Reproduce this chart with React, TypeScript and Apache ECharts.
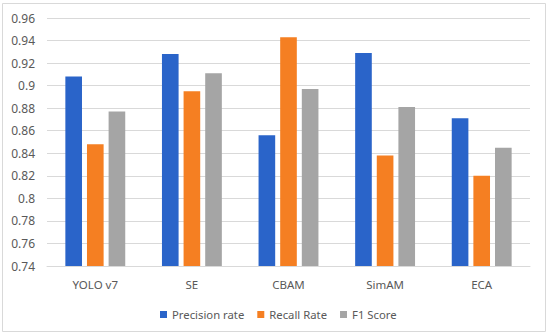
import React, { useEffect, useRef } from "react";
import * as echarts from "echarts";

const categories = ["YOLO v7", "SE", "CBAM", "SimAM", "ECA"];
const precision = [0.908, 0.928, 0.856, 0.929, 0.871];
const recall = [0.848, 0.895, 0.943, 0.838, 0.820];
const f1 = [0.877, 0.911, 0.897, 0.881, 0.845];
const seriesNames = ["Precision rate", "Recall Rate", "F1 Score"];
const colors = ["#2A64C9", "#F57F22", "#A5A5A5"];

export default function App() {
  const ref = useRef<HTMLDivElement>(null);
  useEffect(() => {
    document.body.style.margin = "0";
    const chart = echarts.init(ref.current!, null, { renderer: "svg" });
    const font = "Noto Sans";
    chart.setOption({
      animation: false,
      backgroundColor: "#fff",
      textStyle: { fontFamily: font },
      grid: { left: 47, right: 20, top: 18, bottom: 70 },
      legend: {
        top: 304,
        left: 155,
        itemWidth: 7,
        itemHeight: 7,
        itemGap: 13,
        icon: "rect",
        textStyle: { color: "#595959", fontSize: 11.3, fontFamily: font },
        data: seriesNames,
      },
      xAxis: {
        type: "category",
        data: categories,
        axisLine: { lineStyle: { color: "#D9D9D9" } },
        axisTick: { show: false },
        axisLabel: { color: "#595959", fontSize: 11.5, margin: 12, fontFamily: font },
      },
      yAxis: {
        type: "value",
        min: 0.74,
        max: 0.96,
        interval: 0.02,
        axisLine: { show: false },
        axisTick: { show: false },
        splitLine: { lineStyle: { color: "#D9D9D9", width: 1 } },
        axisLabel: {
          color: "#595959",
          fontSize: 12,
          margin: 12,
          fontFamily: font,
          formatter: (v: number) => String(parseFloat(v.toFixed(2))),
        },
      },
      series: [precision, recall, f1].map((d, i) => ({
        name: seriesNames[i],
        type: "bar",
        data: d,
        itemStyle: { color: colors[i] },
        barGap: "30%",
        barCategoryGap: "38%",
      })),
      graphic: [
        {
          type: "rect",
          shape: { x: 2.5, y: 3.5, width: 543, height: 328 },
          style: { fill: "none", stroke: "#D9D9D9", lineWidth: 1 },
          silent: true,
        },
      ],
    });
    return () => chart.dispose();
  }, []);
  return <div ref={ref} style={{ width: 550, height: 336 }} />;
}
